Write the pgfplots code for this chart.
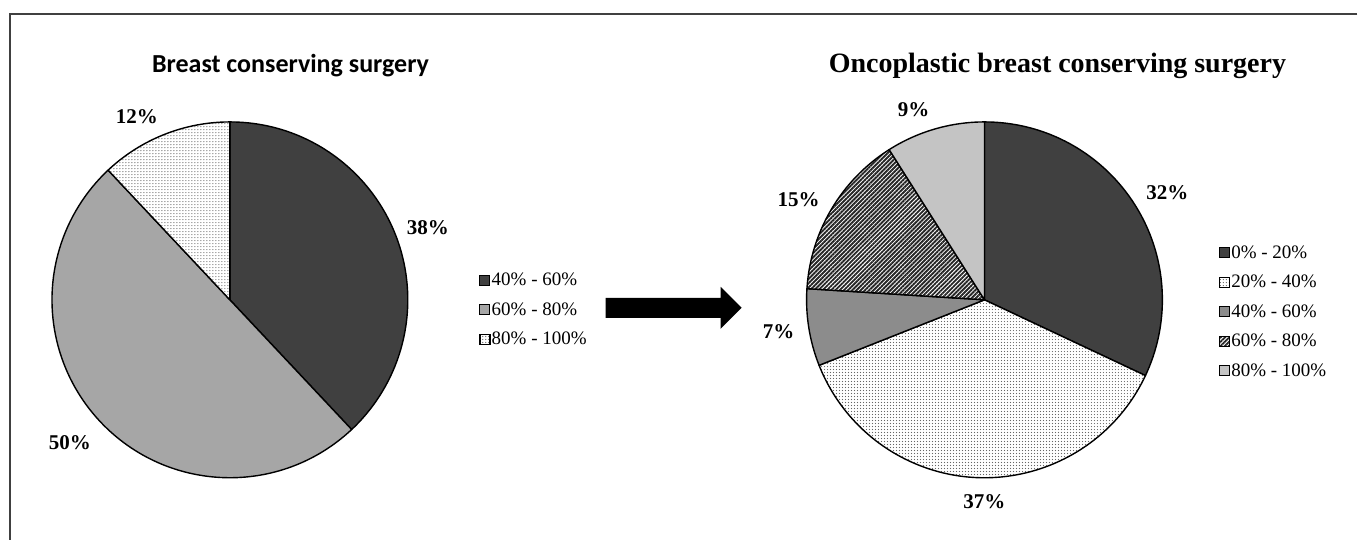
\documentclass[border=0pt]{standalone}
\usepackage{pgfplots}
\pgfplotsset{compat=1.18}
\usepackage{pgfplotstable}
\usetikzlibrary{patterns.meta}
\usepackage{fontspec}
\setmainfont{Liberation Serif}
\newfontfamily\calibri{Carlito}
\definecolor{darkslice}{HTML}{404040}
\definecolor{midA}{HTML}{A6A6A6}
\definecolor{midB}{HTML}{8C8C8C}
\definecolor{lightslice}{HTML}{C4C4C4}

\pgfplotstableread{
pct lx ly
38 428 -228
50 70 -443
12 137 -117
}\leftdata
\pgfplotstableread{
pct lx ly
32 1168 -193
37 985 -502
7 779 -332
15 799 -200
9 914 -110
}\rightdata

\tikzset{
 dotfill/.style={preaction={fill=white}, pattern={Dots[distance=3pt,radius=0.6pt]}, pattern color=black!60},
 hatchfill/.style={preaction={fill=white}, pattern={Lines[angle=45,distance=3pt,line width=1.9pt]}, pattern color=black!85},
 sliceL0/.style={fill=darkslice},
 sliceL1/.style={fill=midA},
 sliceL2/.style={dotfill},
 sliceR0/.style={fill=darkslice},
 sliceR1/.style={dotfill},
 sliceR2/.style={fill=midB},
 sliceR3/.style={hatchfill},
 sliceR4/.style={fill=lightslice},
}
\newcommand\labfont{\fontsize{21}{21}\selectfont\bfseries}

% #1 table, #2 style prefix, #3 cx, #4 cy, #5 last row index
\newcommand\drawpie[5]{%
  \def\startang{90}%
  \pgfplotsforeachungrouped \i in {0,...,#5}{%
    \pgfplotstablegetelem{\i}{pct}\of#1\let\val\pgfplotsretval
    \pgfplotstablegetelem{\i}{lx}\of#1\let\lx\pgfplotsretval
    \pgfplotstablegetelem{\i}{ly}\of#1\let\ly\pgfplotsretval
    \pgfmathsetmacro\endang{\startang-3.6*\val}%
    \edef\cmd{\noexpand\filldraw[#2\i, draw=black, line width=1.4pt, line join=round] (axis cs:#3,#4) -- ++(\startang:178pt) arc[start angle=\startang, end angle=\endang, radius=178pt] -- cycle;
      \noexpand\node[font=\noexpand\labfont, inner sep=0pt] at (axis cs:\lx,\ly) {\val\noexpand\%};}%
    \cmd
    \let\startang\endang
  }%
}

\pgfplotsset{
  base/.style={
    width=1358pt, height=540pt, scale only axis,
    xmin=0, xmax=1358, ymin=-540, ymax=0,
    hide axis, clip=false,
    at={(0pt,0pt)}, anchor=south west,
    legend cell align=left,
    legend image code/.code={\draw[##1, draw=black, line width=0.8pt] (0pt,-5pt) rectangle (10pt,5pt);},
    legend style={draw=none, fill=none, inner sep=0pt,
      font=\fontsize{19}{19}\selectfont, row sep=12.4pt,
      nodes={inner sep=1.5pt}},
  },
}

\begin{document}
\begin{tikzpicture}
\begin{axis}[base,
  legend style={at={(479.5/1358,230/540)}, anchor=west}]
  \path (axis cs:0,-540) rectangle (axis cs:1358,0);
  \draw[line width=1.5pt, black!75] (axis cs:1358,-14) -- (axis cs:10,-14) -- (axis cs:10,-540);
  \node[anchor=base west, inner sep=0pt, font=\calibri\bfseries\fontsize{26}{26}\selectfont] at (axis cs:152,-73) {Breast conserving surgery};
  \drawpie{\leftdata}{sliceL}{230}{-300}{2}
  \fill[black] (axis cs:606,-298) -- (axis cs:721,-298) -- (axis cs:721,-287) -- (axis cs:742,-308) -- (axis cs:721,-329) -- (axis cs:721,-318) -- (axis cs:606,-318) -- cycle;
  \addlegendimage{fill=darkslice}\addlegendentry{40\% - 60\%}
  \addlegendimage{fill=midA}\addlegendentry{60\% - 80\%}
  \addlegendimage{dotfill}\addlegendentry{80\% - 100\%}
\end{axis}
\begin{axis}[base,
  legend style={at={(1219.5/1358,228/540)}, anchor=west}]
  \node[anchor=base west, inner sep=0pt, font=\bfseries\fontsize{28}{28}\selectfont] at (axis cs:829,-73) {Oncoplastic breast conserving surgery};
  \drawpie{\rightdata}{sliceR}{985}{-300}{4}
  \addlegendimage{fill=darkslice}\addlegendentry{0\% - 20\%}
  \addlegendimage{dotfill}\addlegendentry{20\% - 40\%}
  \addlegendimage{fill=midB}\addlegendentry{40\% - 60\%}
  \addlegendimage{hatchfill}\addlegendentry{60\% - 80\%}
  \addlegendimage{fill=lightslice}\addlegendentry{80\% - 100\%}
\end{axis}
\end{tikzpicture}
\end{document}
